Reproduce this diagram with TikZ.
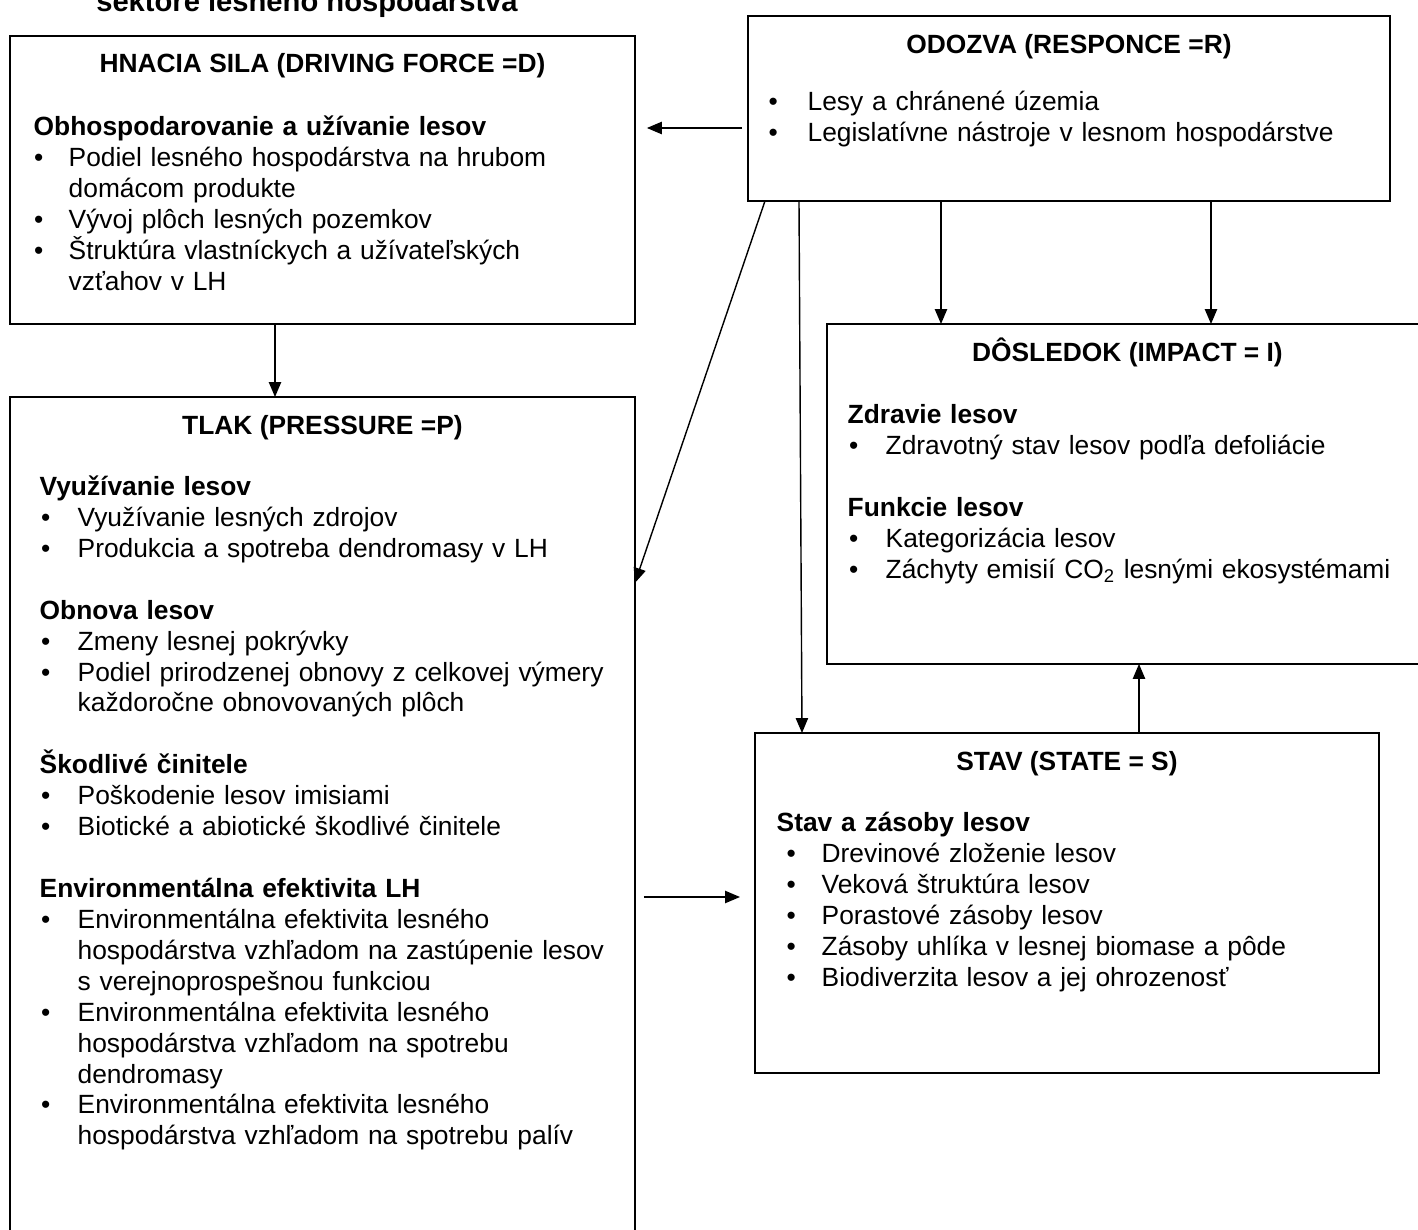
\documentclass[tikz,border=0pt]{standalone}
\usepackage{fontspec}
\setmainfont{Liberation Sans}
\usetikzlibrary{arrows.meta,calc}
\setlength{\parindent}{0pt}

\newlength{\bo}
\newlength{\ho}
\newcommand{\tstrut}{\rule{0pt}{13pt}}
\newcommand{\blk}{\vspace{\baselineskip}}
\newcommand{\hd}[1]{{\bfseries #1}\par}
\newcommand{\itm}[1]{\hangindent=\ho\hangafter=1\noindent\makebox[\ho][l]{\hspace{\bo}\textbullet}#1\par}

\begin{document}
\begin{tikzpicture}[x=0.02cm,y=-0.02cm,line width=0.8pt,
        >={Triangle[length=8.5pt,width=7pt]},
        every node/.style={font=\fontsize{15pt}{17.6pt}\selectfont},
        box/.style={draw,rectangle,anchor=north west,inner sep=0pt,outer sep=0pt},
        ttl/.style={anchor=base,inner sep=0pt,font=\fontsize{15pt}{17.6pt}\selectfont\bfseries},
        txt/.style={anchor=north west,inner sep=0pt,text width=#1}]
        \useasboundingbox (0,0) rectangle (1418,1230);

        \node[anchor=base,font=\fontsize{16.6pt}{19pt}\selectfont\bfseries] (hdr) at (307,12) {sektore lesného hospodárstva};

        % boxy
        \node[box,minimum width=12.5cm,minimum height=5.76cm] (dbox) at (10,36) {};
        \node[box,minimum width=12.84cm,minimum height=3.7cm] (rbox) at (748,16) {};
        \node[box,minimum width=12.02cm,minimum height=6.8cm] (ibox) at (827,324) {};
        \node[box,minimum width=12.48cm,minimum height=6.8cm] (sbox) at (755,733) {};
        \node[box,minimum width=12.5cm,minimum height=17cm] (pbox) at (10,397) {};

        % nadpisy
        \node[ttl] (dttl) at ($(dbox.north)+(0,37)$) {HNACIA SILA (DRIVING FORCE =D)};
        \node[ttl] (rttl) at ($(rbox.north)+(0,38)$) {ODOZVA (RESPONCE =R)};
        \node[ttl] (ittl) at ($(ibox.north)+(0,37)$) {DÔSLEDOK (IMPACT = I)};
        \node[ttl] (sttl) at ($(sbox.north)+(0,37)$) {STAV (STATE = S)};
        \node[ttl] (pttl) at ($(pbox.north)+(0,37)$) {TLAK (PRESSURE =P)};

        \node[txt=11.8cm] (dtxt) at ($(dbox.north west)+(23,76)$) {%
            \setlength{\bo}{0.01cm}\setlength{\ho}{0.7cm}%
            \hd{\tstrut Obhospodarovanie a užívanie lesov}
            \itm{Podiel lesného hospodárstva na hrubom\newline domácom produkte}
            \itm{Vývoj plôch lesných pozemkov}
            \itm{Štruktúra vlastníckych a užívateľských\newline vzťahov v LH}};

        \node[txt=12.2cm] (rtxt) at ($(rbox.north west)+(20,71)$) {%
            \setlength{\bo}{0cm}\setlength{\ho}{0.78cm}%
            \itm{\tstrut Lesy a chránené územia}
            \itm{Legislatívne nástroje v lesnom hospodárstve}};

        \node[txt=11.4cm] (itxt) at ($(ibox.north west)+(20,76)$) {%
            \setlength{\bo}{0.03cm}\setlength{\ho}{0.76cm}%
            \hd{\tstrut Zdravie lesov}
            \itm{Zdravotný stav lesov podľa defoliácie}\blk
            \hd{Funkcie lesov}
            \itm{Kategorizácia lesov}
            \itm{Záchyty emisií CO\textsubscript{2} lesnými ekosystémami}};

        \node[txt=11.8cm] (stxt) at ($(sbox.north west)+(21,75)$) {%
            \setlength{\bo}{0.2cm}\setlength{\ho}{0.9cm}%
            \hd{\tstrut Stav a zásoby lesov}
            \itm{Drevinové zloženie lesov}
            \itm{Veková štruktúra lesov}
            \itm{Porastové zásoby lesov}
            \itm{Zásoby uhlíka v lesnej biomase a pôde}
            \itm{Biodiverzita lesov a jej ohrozenosť}};

        \node[txt=11.7cm] (ptxt) at ($(pbox.north west)+(29,75)$) {%
            \setlength{\bo}{0.03cm}\setlength{\ho}{0.76cm}%
            \hd{\tstrut Využívanie lesov}
            \itm{Využívanie lesných zdrojov}
            \itm{Produkcia a spotreba dendromasy v LH}\blk
            \hd{Obnova lesov}
            \itm{Zmeny lesnej pokrývky}
            \itm{Podiel prirodzenej obnovy z celkovej výmery\newline každoročne obnovovaných plôch}\blk
            \hd{Škodlivé činitele}
            \itm{Poškodenie lesov imisiami}
            \itm{Biotické a abiotické škodlivé činitele}\blk
            \hd{Environmentálna efektivita LH}
            \itm{Environmentálna efektivita lesného\newline hospodárstva vzhľadom na zastúpenie lesov\newline s verejnoprospešnou funkciou}
            \itm{Environmentálna efektivita lesného\newline hospodárstva vzhľadom na spotrebu\newline dendromasy}
            \itm{Environmentálna efektivita lesného\newline hospodárstva vzhľadom na spotrebu palív}};

        % sipky
        \coordinate (rdy) at (0,128);
        \coordinate (dpx) at (275,0);
        \coordinate (psy) at (0,897);
        \draw[->] ($(rbox.west |- rdy)+(-6,0)$) -- ($(dbox.east |- rdy)+(12,0)$);
        \draw[->] (dbox.south -| dpx) -- (pbox.north -| dpx);
        \draw[->] ($(rbox.south west)+(17,0)$) -- ($(pbox.north east)+(0,186)$);
        \draw[->] ($(rbox.south west)+(51,0)$) -- ($(sbox.north west)+(47,0)$);
        \draw[->] ($(rbox.south west)+(193,0)$) -- ($(ibox.north west)+(114,0)$);
        \draw[->] ($(rbox.south west)+(463,0)$) -- ($(ibox.north west)+(384,0)$);
        \draw[->] ($(sbox.north west)+(384,0)$) -- ($(ibox.south west)+(312,0)$);
        \draw[->] ($(pbox.east |- psy)+(9,0)$) -- ($(sbox.west |- psy)+(-15,0)$);

    \end{tikzpicture}
\end{document}
